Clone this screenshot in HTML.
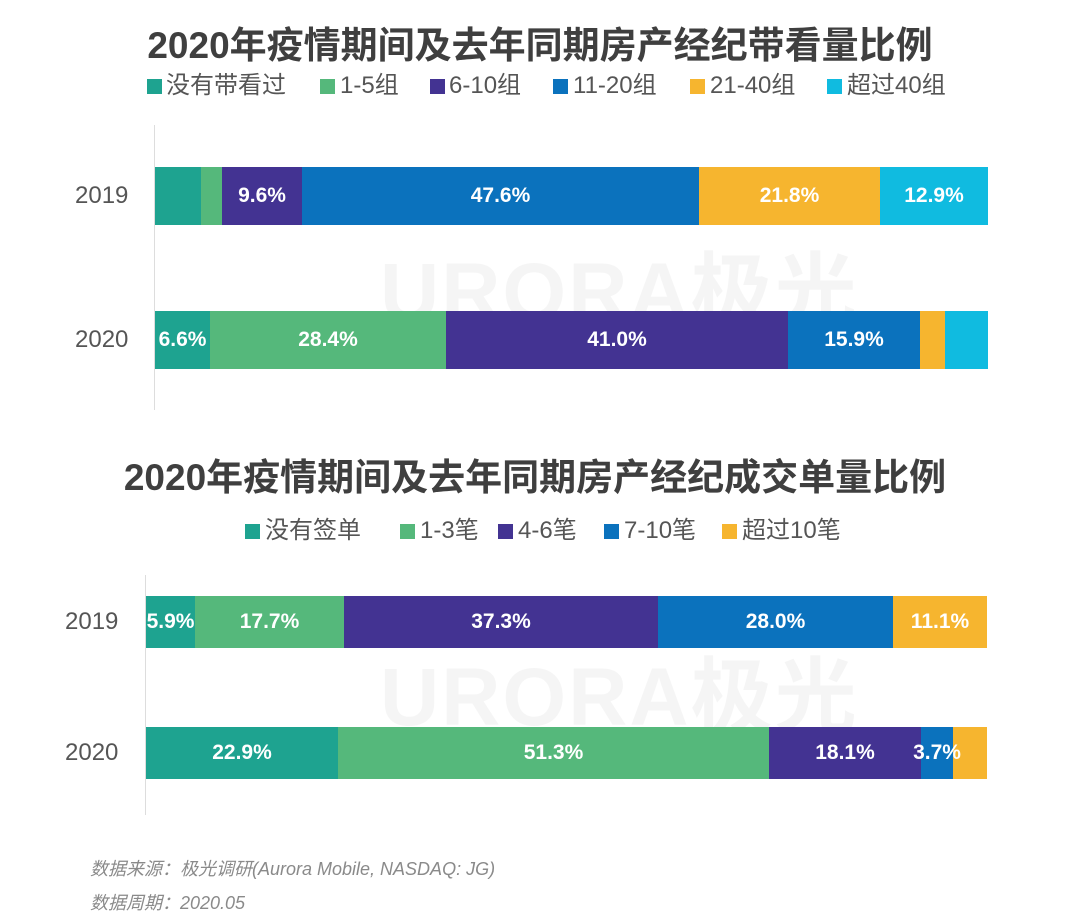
<!DOCTYPE html>
<html><head><meta charset="utf-8"><style>
body{margin:0;width:1080px;height:914px;background:#fff;position:relative;overflow:hidden;font-family:"Liberation Sans","Noto Sans CJK SC",sans-serif}
.t{position:absolute;left:0;width:1080px;text-align:center;font-weight:bold;font-size:37px;color:#3f3f3f}
.lg{position:absolute;font-size:24px;color:#555;white-space:nowrap;line-height:30px}
.sq{position:absolute;width:15px;height:15px}
.s{position:absolute;color:#fff;font-weight:bold;font-size:21px;display:flex;align-items:center;justify-content:center;overflow:hidden;white-space:nowrap}
.y{position:absolute;font-size:24px;color:#555}
.ax{position:absolute;width:1px;background:#ddd}
.f{position:absolute;left:90px;font-size:18px;color:#8a8a8a;font-style:italic}
.wm{position:absolute;font-size:82px;font-weight:bold;color:rgba(0,0,0,0.04);letter-spacing:2px}
</style></head><body>
<div class="wm" style="left:380px;top:225px">URORA极光</div>
<div class="wm" style="left:380px;top:630px">URORA极光</div>
<div class="t" style="top:15px;left:0">2020年疫情期间及去年同期房产经纪带看量比例</div>
<div class="sq" style="left:147px;top:79px;background:#1ea390"></div><div class="lg" style="left:166px;top:71px">没有带看过</div>
<div class="sq" style="left:320px;top:79px;background:#55b87b"></div><div class="lg" style="left:340px;top:71px">1-5组</div>
<div class="sq" style="left:430px;top:79px;background:#433392"></div><div class="lg" style="left:449px;top:71px">6-10组</div>
<div class="sq" style="left:553px;top:79px;background:#0b72bd"></div><div class="lg" style="left:573px;top:71px">11-20组</div>
<div class="sq" style="left:690px;top:79px;background:#f6b52f"></div><div class="lg" style="left:710px;top:71px">21-40组</div>
<div class="sq" style="left:827px;top:79px;background:#10bbe0"></div><div class="lg" style="left:847px;top:71px">超过40组</div>
<div class="ax" style="left:154px;top:125px;height:285px"></div>
<div class="y" style="left:75px;top:182px">2019</div>
<div class="y" style="left:75px;top:326px">2020</div>
<div class="s" style="left:155px;width:46px;top:167px;height:58px;background:#1ea390"></div>
<div class="s" style="left:201px;width:21px;top:167px;height:58px;background:#55b87b"></div>
<div class="s" style="left:222px;width:80px;top:167px;height:58px;background:#433392">9.6%</div>
<div class="s" style="left:302px;width:397px;top:167px;height:58px;background:#0b72bd">47.6%</div>
<div class="s" style="left:699px;width:181px;top:167px;height:58px;background:#f6b52f">21.8%</div>
<div class="s" style="left:880px;width:108px;top:167px;height:58px;background:#10bbe0">12.9%</div>
<div class="s" style="left:155px;width:55px;top:311px;height:58px;background:#1ea390">6.6%</div>
<div class="s" style="left:210px;width:236px;top:311px;height:58px;background:#55b87b">28.4%</div>
<div class="s" style="left:446px;width:342px;top:311px;height:58px;background:#433392">41.0%</div>
<div class="s" style="left:788px;width:132px;top:311px;height:58px;background:#0b72bd">15.9%</div>
<div class="s" style="left:920px;width:25px;top:311px;height:58px;background:#f6b52f"></div>
<div class="s" style="left:945px;width:43px;top:311px;height:58px;background:#10bbe0"></div>

<div class="t" style="top:447px;left:-5px">2020年疫情期间及去年同期房产经纪成交单量比例</div>
<div class="sq" style="left:245px;top:524px;background:#1ea390"></div><div class="lg" style="left:265px;top:516px">没有签单</div>
<div class="sq" style="left:400px;top:524px;background:#55b87b"></div><div class="lg" style="left:420px;top:516px">1-3笔</div>
<div class="sq" style="left:498px;top:524px;background:#433392"></div><div class="lg" style="left:518px;top:516px">4-6笔</div>
<div class="sq" style="left:604px;top:524px;background:#0b72bd"></div><div class="lg" style="left:624px;top:516px">7-10笔</div>
<div class="sq" style="left:722px;top:524px;background:#f6b52f"></div><div class="lg" style="left:742px;top:516px">超过10笔</div>
<div class="ax" style="left:145px;top:575px;height:240px"></div>
<div class="y" style="left:65px;top:608px">2019</div>
<div class="y" style="left:65px;top:739px">2020</div>
<div class="s" style="left:146px;width:49px;top:596px;height:52px;background:#1ea390">5.9%</div>
<div class="s" style="left:195px;width:149px;top:596px;height:52px;background:#55b87b">17.7%</div>
<div class="s" style="left:344px;width:314px;top:596px;height:52px;background:#433392">37.3%</div>
<div class="s" style="left:658px;width:235px;top:596px;height:52px;background:#0b72bd">28.0%</div>
<div class="s" style="left:893px;width:94px;top:596px;height:52px;background:#f6b52f">11.1%</div>
<div class="s" style="left:146px;width:192px;top:727px;height:52px;background:#1ea390">22.9%</div>
<div class="s" style="left:338px;width:431px;top:727px;height:52px;background:#55b87b">51.3%</div>
<div class="s" style="left:769px;width:152px;top:727px;height:52px;background:#433392">18.1%</div>
<div class="s" style="left:921px;width:32px;top:727px;height:52px;background:#0b72bd"></div>
<div class="s" style="left:953px;width:34px;top:727px;height:52px;background:#f6b52f"></div>
<div class="s" style="left:912px;width:50px;top:727px;height:52px">3.7%</div>

<div class="f" style="top:855px">数据来源：极光调研(Aurora Mobile, NASDAQ: JG)</div>
<div class="f" style="top:889px">数据周期：2020.05</div>
</body></html>
